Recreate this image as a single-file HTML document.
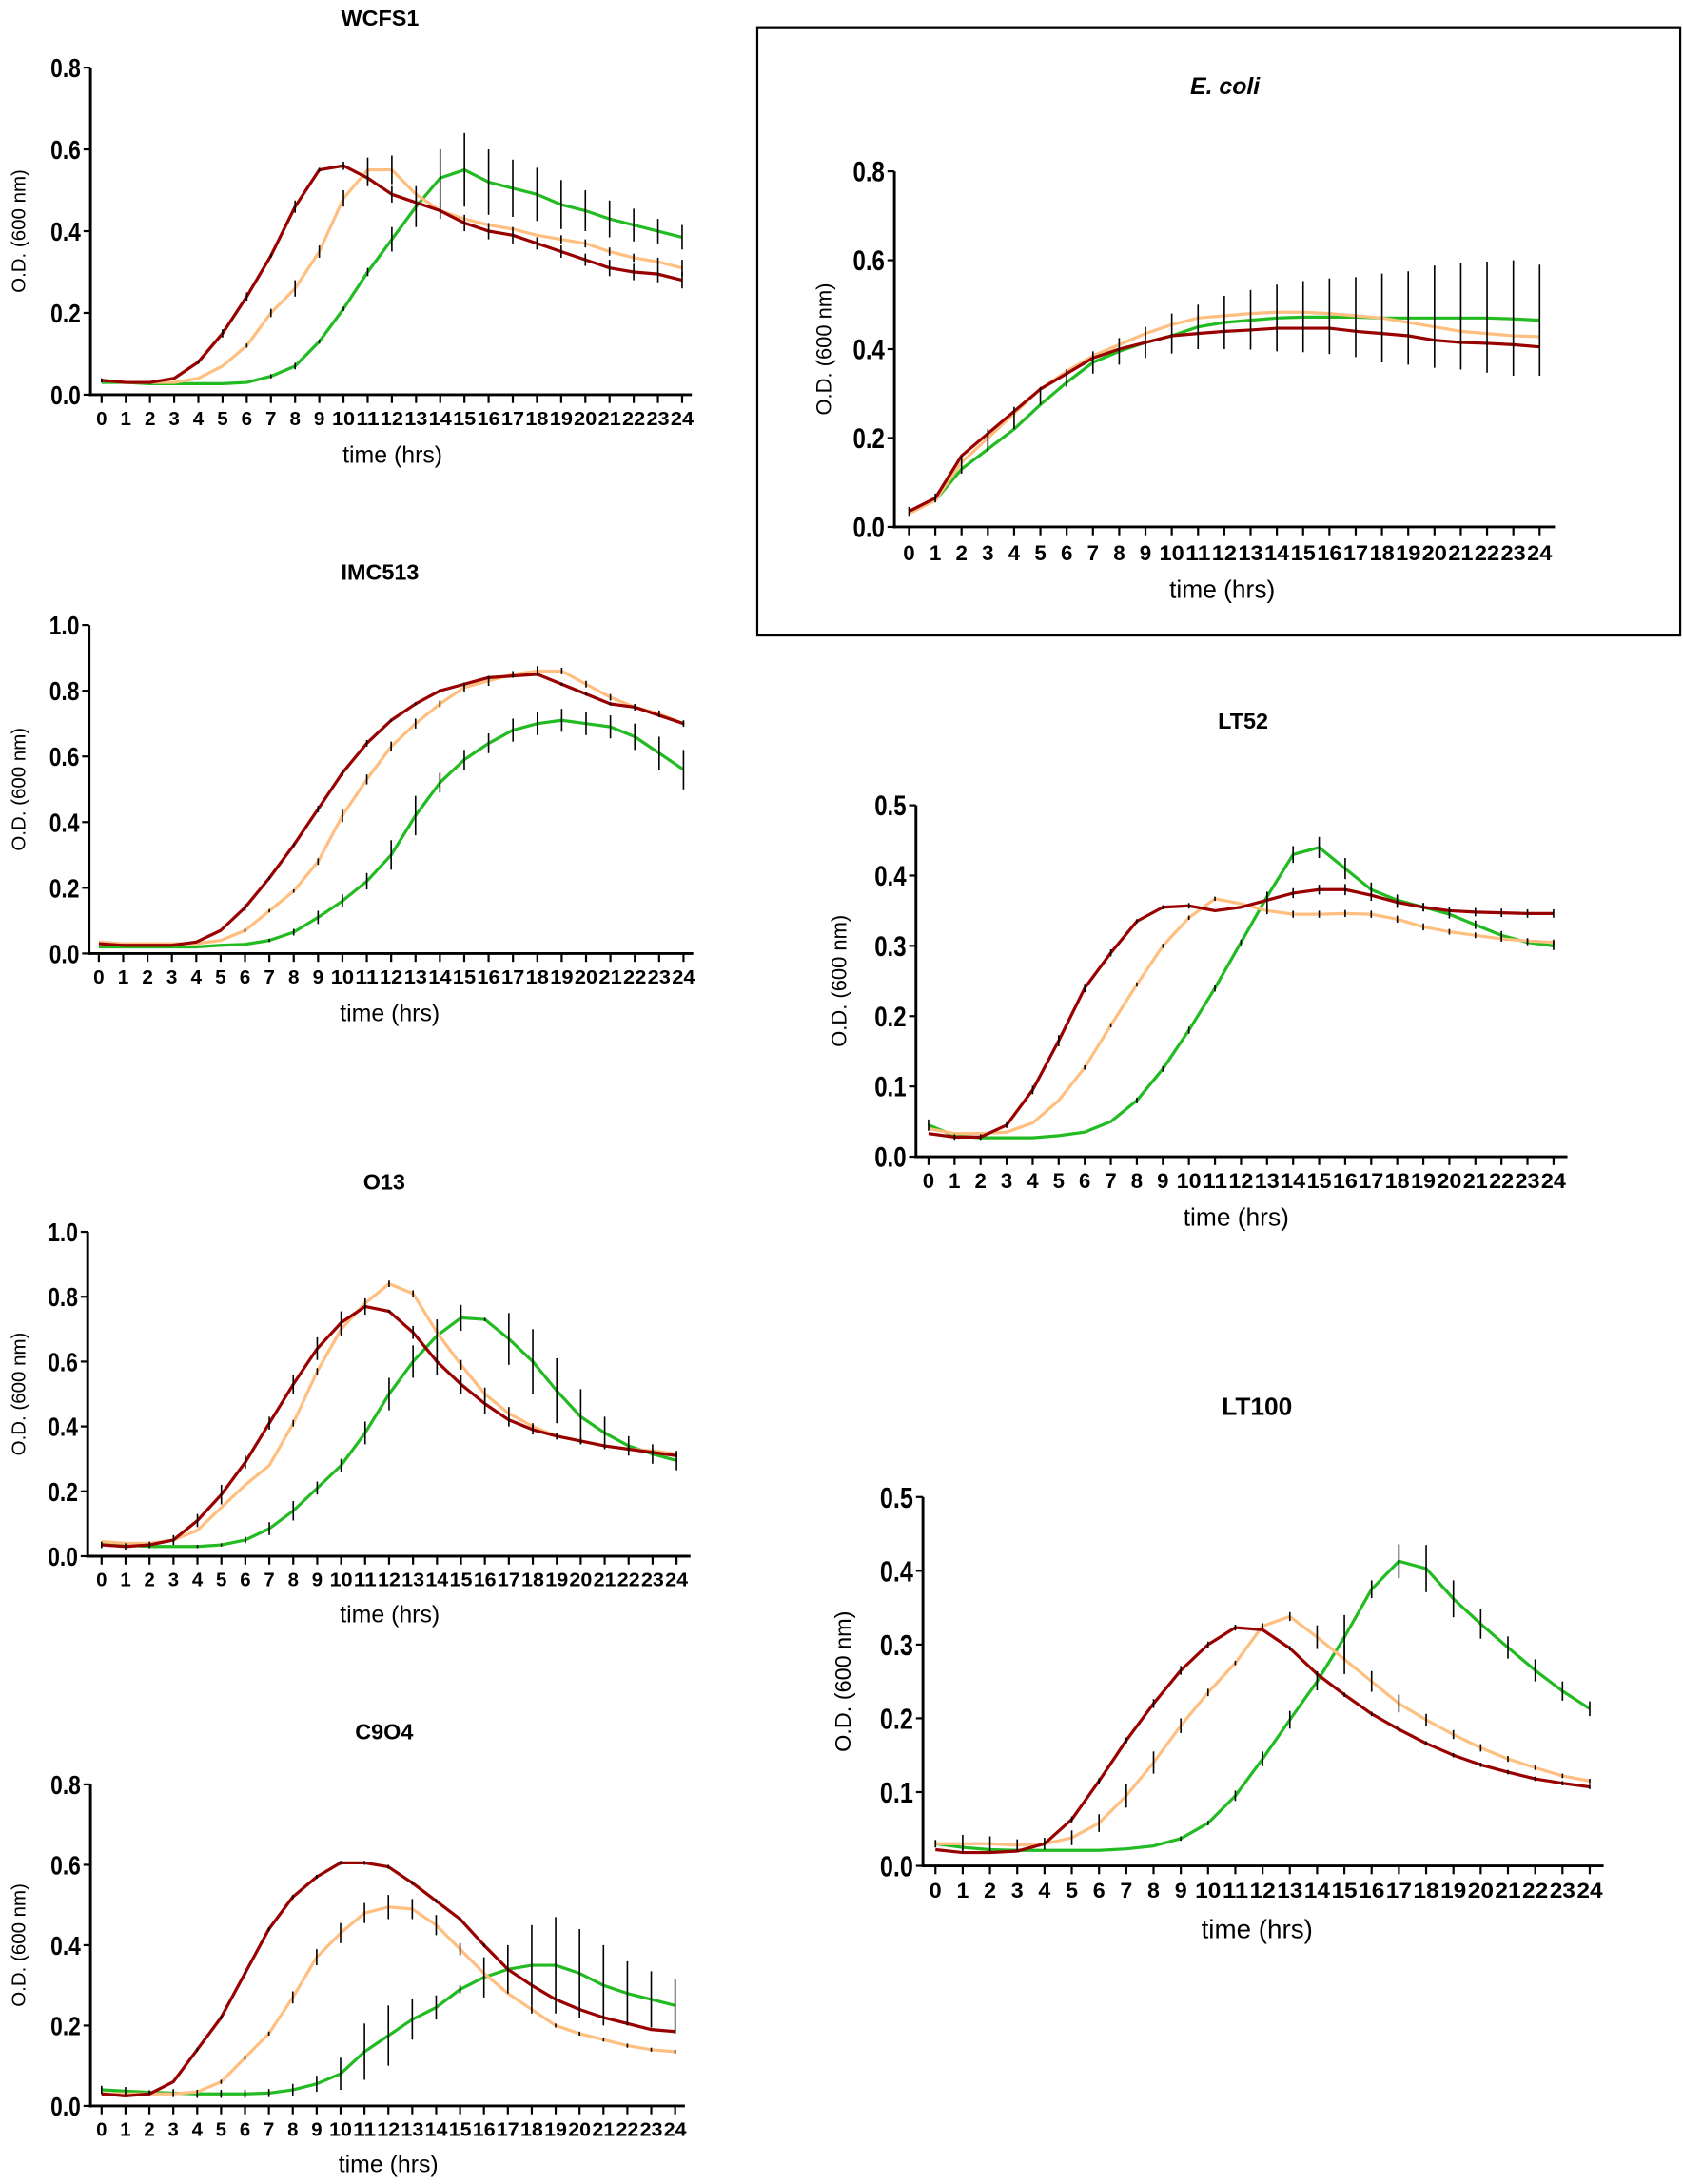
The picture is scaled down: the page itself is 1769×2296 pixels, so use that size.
<!DOCTYPE html>
<html><head><meta charset="utf-8">
<style>
html,body{margin:0;padding:0;background:#fff;}
svg{display:block;}
text{font-family:"Liberation Sans",sans-serif;}
.n{font-family:"Liberation Sans Narrow","Liberation Sans",sans-serif;font-weight:bold;}
</style></head>
<body>
<svg id="s" xmlns="http://www.w3.org/2000/svg" width="1769" height="2296" viewBox="0 0 1209 1568">
<rect x="0" y="0" width="1209" height="1568" fill="#fff"/>
<rect x="544" y="19" width="663" height="437" fill="none" stroke="#000" stroke-width="1.5"/>
</svg>
<script>
var R="#990000",O="#ffbf80",G="#22bb22";
var charts=[
{t:"WCFS1",tx:273,ty:18,ts:16,ax:65,x0:73,x24:490,xe:497,y0:283,yt:48,ymax:0.8,step:0.2,dec:1,ylx:18,tly:305,tiy:332,tix:282,yfs:19,xfs:14,tfs:17,lfs:14,
 s:[[G,[.03,.03,.027,.027,.027,.027,.03,.045,.07,.13,.21,.30,.38,.46,.53,.55,.52,.505,.49,.465,.45,.43,.415,.40,.385],[0,0,0,0,0,0,0,.005,.008,.005,.005,.01,.03,.05,.07,.09,.08,.07,.065,.06,.05,.045,.04,.03,.03]],
 [O,[.035,.03,.03,.03,.04,.07,.12,.20,.26,.35,.48,.55,.55,.49,.45,.43,.415,.405,.39,.38,.37,.35,.335,.325,.31],[0,0,0,0,0,0,.005,.01,.02,.015,.02,.03,.035,0,0,0,0,0,0,.01,.01,.01,.01,.01,.02]],
 [R,[.035,.03,.03,.04,.08,.15,.24,.34,.46,.55,.56,.53,.49,.47,.45,.42,.40,.39,.37,.35,.33,.31,.30,.295,.28],[.005,0,0,0,.005,.01,.01,.005,.015,.005,.01,.02,.02,.02,.02,.02,.02,.02,.015,.015,.015,.02,.02,.02,.02]]]},
{t:"IMC513",tx:273,ty:416,ts:16,ax:64,x0:71,x24:491,xe:498,y0:684.5,yt:448.5,ymax:1.0,step:0.2,dec:1,ylx:18,tly:706,tiy:733,tix:280,yfs:19,xfs:14,tfs:17,lfs:14,
 s:[[G,[.02,.02,.02,.02,.02,.025,.028,.04,.065,.11,.16,.22,.30,.42,.52,.59,.64,.68,.70,.71,.70,.69,.66,.61,.56],[0,0,0,0,0,0,0,.005,.01,.02,.02,.025,.045,.06,.03,.03,.03,.035,.035,.035,.035,.035,.04,.05,.06]],
 [O,[.035,.03,.03,.03,.03,.04,.07,.13,.19,.28,.42,.53,.63,.70,.76,.81,.83,.85,.86,.86,.82,.78,.75,.73,.70],[0,0,0,0,0,0,.005,.005,.005,.01,.02,.015,.015,.015,.01,.015,.015,.01,.015,.01,.01,.01,.01,.01,.01]],
 [R,[.03,.025,.025,.025,.035,.07,.14,.23,.33,.44,.55,.64,.71,.76,.80,.82,.84,.845,.85,.82,.79,.76,.75,.725,.70],[0,0,0,0,0,0,.01,.005,.005,.01,.01,.01,.005,.005,.005,.005,.005,.005,.005,.005,.005,.005,.005,.005,.005]]]},
{t:"O13",tx:276,ty:854,ts:16,ax:63,x0:73,x24:486,xe:496,y0:1117.5,yt:884.5,ymax:1.0,step:0.2,dec:1,ylx:18,tly:1139,tiy:1165,tix:280,yfs:19,xfs:14,tfs:17,lfs:14,
 s:[[G,[.04,.035,.03,.03,.03,.035,.05,.085,.14,.21,.28,.38,.50,.60,.68,.735,.73,.67,.60,.51,.43,.38,.34,.315,.295],[0,0,0,0,.005,.005,.01,.02,.03,.02,.02,.035,.05,.05,.05,.04,.005,.08,.1,.1,.085,.05,.03,.03,.03]],
 [O,[.045,.04,.04,.05,.08,.15,.22,.28,.41,.57,.70,.78,.84,.81,.69,.59,.50,.44,.40,.37,.355,.34,.33,.325,.315],[0,0,0,0,0,0,0,0,.01,.01,.02,.01,.01,.01,.01,.015,.02,.02,.01,.01,.01,.005,.005,.005,.005]],
 [R,[.035,.03,.035,.05,.11,.19,.29,.41,.53,.64,.72,.77,.755,.69,.60,.53,.47,.42,.39,.37,.355,.34,.33,.32,.31],[.01,.01,.01,.015,.02,.03,.02,.02,.03,.035,.035,.025,.005,.02,.04,.03,.03,.02,.015,.01,.005,.005,.005,.005,.005]]]},
{t:"C9O4",tx:276,ty:1249,ts:16,ax:65,x0:73,x24:485,xe:492,y0:1512.5,yt:1281.5,ymax:0.8,step:0.2,dec:1,ylx:18,tly:1534,tiy:1560,tix:279,yfs:19,xfs:14,tfs:17,lfs:14,
 s:[[G,[.04,.037,.034,.032,.03,.03,.03,.032,.04,.055,.08,.135,.175,.215,.245,.29,.32,.34,.35,.35,.33,.30,.28,.265,.25],[.01,.01,.005,.01,.01,.01,.01,.01,.015,.02,.04,.07,.075,.05,.03,.01,.05,.06,.1,.12,.11,.1,.08,.07,.065]],
 [O,[.03,.03,.03,.03,.035,.06,.12,.18,.27,.37,.43,.48,.495,.49,.45,.39,.33,.28,.24,.20,.18,.165,.15,.14,.135],[0,0,0,0,0,.005,.005,.005,.015,.02,.025,.025,.03,.025,.025,.015,0,0,.01,.005,.005,.005,.005,.005,.005]],
 [R,[.03,.025,.03,.06,.14,.22,.33,.44,.52,.57,.605,.605,.595,.555,.51,.465,.40,.34,.30,.265,.24,.22,.205,.19,.185],[0,0,0,0,.005,.005,.005,.005,.005,.005,.005,.005,.005,.005,.005,.005,.005,0,0,0,0,0,0,0,.005]]]},
{t:"LT52",tx:893,ty:523,ts:16,ax:658,x0:667,x24:1116,xe:1126,y0:830.5,yt:578,ymax:0.5,step:0.1,dec:1,ylx:608,tly:853,tiy:880,tix:888,yfs:20,xfs:15,tfs:18,lfs:15,
 s:[[G,[.045,.03,.027,.027,.027,.03,.035,.05,.08,.125,.18,.24,.305,.37,.43,.44,.41,.38,.365,.355,.345,.33,.315,.305,.30],[.008,0,0,0,0,0,0,0,.004,.004,.005,.005,.004,.004,.012,.015,.015,.01,.008,.006,.006,.006,.006,.004,.006]],
 [O,[.04,.033,.033,.035,.048,.08,.127,.187,.245,.30,.34,.367,.36,.35,.345,.345,.346,.345,.338,.327,.32,.315,.31,.307,.305],[0,0,0,0,0,0,.003,.003,.003,.003,.003,.003,0,.005,.005,.005,.005,.005,.005,.005,.004,.004,.004,.004,.004]],
 [R,[.033,.028,.028,.045,.095,.165,.24,.29,.335,.355,.357,.35,.355,.365,.375,.38,.38,.372,.362,.355,.35,.348,.347,.346,.346],[0,.004,.004,.004,.006,.008,.006,.005,.003,.003,.004,0,0,.012,.007,.007,.008,.008,.008,.006,.006,.006,.006,.006,.006]]]},
{t:"LT100",tx:903,ty:1016,ts:18,ax:663,x0:672,x24:1142,xe:1152,y0:1340,yt:1075,ymax:0.5,step:0.1,dec:1,ylx:611,tly:1363,tiy:1392,tix:903,yfs:21,xfs:15,tfs:19,lfs:16,
 s:[[G,[.03,.025,.022,.021,.021,.021,.021,.023,.027,.037,.058,.095,.145,.198,.25,.31,.375,.413,.403,.362,.328,.296,.265,.237,.213],[.005,.003,0,0,0,0,0,0,0,.003,.003,.007,.01,.012,.012,.03,.012,.023,.032,.025,.02,.015,.015,.013,.01]],
 [O,[.03,.03,.03,.028,.03,.038,.058,.095,.14,.19,.235,.275,.325,.338,.31,.28,.25,.22,.198,.178,.16,.145,.133,.122,.115],[.005,.012,.01,.008,.008,.01,.012,.016,.015,.01,.005,.003,.004,.006,.016,.02,.014,.012,.008,.006,.005,.004,.003,.003,.003]],
 [R,[.022,.018,.018,.02,.03,.063,.115,.17,.22,.265,.30,.323,.32,.295,.26,.232,.206,.185,.166,.15,.137,.127,.118,.112,.107],[0,0,0,0,0,.004,.004,.004,.006,.006,.004,.004,0,.003,.004,.003,.003,.003,.003,.003,.003,.003,.003,.003,.003]]]},
{t:"E. coli",it:1,tx:880,ty:67,ts:17,ax:642.5,x0:653,x24:1106,xe:1117,y0:378,yt:122.5,ymax:0.8,step:0.2,dec:1,ylx:597,tly:402,tiy:429,tix:878,yfs:20,xfs:15,tfs:18,lfs:15,
 s:[[G,[.035,.06,.13,.175,.22,.275,.325,.37,.395,.415,.43,.45,.46,.465,.47,.472,.472,.472,.47,.47,.47,.47,.47,.468,.465],[0,0,0,0,0,0,0,0,0,0,0,0,0,0,0,0,0,0,0,0,0,0,0,0,0]],
 [O,[.03,.06,.145,.20,.255,.31,.35,.385,.41,.435,.455,.47,.475,.48,.483,.483,.48,.475,.47,.46,.45,.44,.435,.43,.428],[0,0,0,0,0,0,0,0,0,0,0,0,0,0,0,0,0,0,0,0,0,0,0,0,0]],
 [R,[.035,.065,.16,.21,.26,.31,.345,.38,.40,.415,.43,.435,.44,.443,.447,.447,.447,.44,.435,.43,.42,.415,.413,.41,.405],[0,0,0,0,0,0,0,0,0,0,0,0,0,0,0,0,0,0,0,0,0,0,0,0,0]]],
 eb:[[.035,.01],[.065,.01],[.14,.02],[.195,.025],[.245,.025],[.295,.02],[.335,.02],[.37,.025],[.395,.03],[.415,.035],[.435,.045],[.45,.05],[.46,.06],[.466,.067],[.47,.075],[.473,.08],[.474,.085],[.472,.09],[.47,.1],[.47,.105],[.473,.115],[.474,.12],[.472,.125],[.47,.13],[.465,.125]]}
];
var svg=document.getElementById("s"),out="";
function n(v){return Math.round(v*100)/100;}
charts.forEach(function(c){
 var dx=(c.x24-c.x0)/24, k=(c.y0-c.yt)/c.ymax;
 function X(i){return c.x0+dx*i;} function Y(v){return c.y0-v*k;}
 out+='<text x="'+c.tx+'" y="'+c.ty+'" text-anchor="middle" font-size="'+c.ts+'" font-weight="bold"'+(c.it?' font-style="italic"':'')+'>'+c.t+'</text>';
 c.s.forEach(function(s){
  var p=s[1].map(function(v,i){return n(X(i))+","+n(Y(v));}).join(" ");
  out+='<polyline points="'+p+'" fill="none" stroke="'+s[0]+'" stroke-width="2.2" stroke-linejoin="round"/>';
 });
 c.s.forEach(function(s){
  s[2].forEach(function(e,i){ if(e>0){var v=s[1][i];
   out+='<line x1="'+n(X(i))+'" x2="'+n(X(i))+'" y1="'+n(Y(v+e))+'" y2="'+n(Y(v-e))+'" stroke="#000" stroke-width="1.1"/>';}});
 });
 if(c.eb){c.eb.forEach(function(b,i){out+='<line x1="'+n(X(i))+'" x2="'+n(X(i))+'" y1="'+n(Y(b[0]+b[1]))+'" y2="'+n(Y(b[0]-b[1]))+'" stroke="#000" stroke-width="1.1"/>';});}
 out+='<line x1="'+c.ax+'" y1="'+c.yt+'" x2="'+c.ax+'" y2="'+(c.y0+1)+'" stroke="#000" stroke-width="2"/>';
 out+='<line x1="'+(c.ax-1)+'" y1="'+c.y0+'" x2="'+c.xe+'" y2="'+c.y0+'" stroke="#000" stroke-width="2"/>';
 var nt=Math.round(c.ymax/c.step);
 for(var j=0;j<=nt;j++){var v=j*c.step,y=n(Y(v));
  out+='<line x1="'+(c.ax-5)+'" y1="'+y+'" x2="'+c.ax+'" y2="'+y+'" stroke="#000" stroke-width="1.5"/>';
  out+='<text class="n" transform="translate('+(c.ax-7)+','+(y+c.yfs*0.36)+') scale(0.82,1)" text-anchor="end" font-size="'+c.yfs+'">'+v.toFixed(c.dec)+'</text>';}
 for(var i=0;i<=24;i++){var x=n(X(i));
  out+='<line x1="'+x+'" y1="'+c.y0+'" x2="'+x+'" y2="'+(c.y0+6)+'" stroke="#000" stroke-width="1.5"/>';
  out+='<text class="n" x="'+x+'" y="'+c.tly+'" text-anchor="middle" font-size="'+c.xfs+'" textLength="'+(i>=10?dx*0.95:dx*0.45)+'" lengthAdjust="spacingAndGlyphs">'+i+'</text>';}
 out+='<text x="'+c.tix+'" y="'+c.tiy+'" text-anchor="middle" font-size="'+c.tfs+'">time (hrs)</text>';
 var cy=(c.y0+c.yt)/2;
 out+='<text x="'+c.ylx+'" y="'+cy+'" text-anchor="middle" font-size="'+c.lfs+'" transform="rotate(-90 '+c.ylx+' '+cy+')">O.D. (600 nm)</text>';
});
svg.insertAdjacentHTML("beforeend",out);
</script>
</body></html>
